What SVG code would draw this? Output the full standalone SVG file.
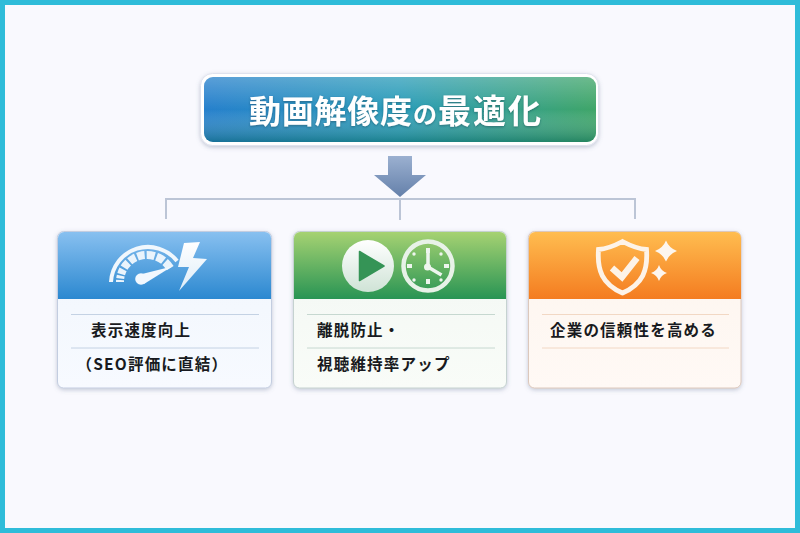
<svg xmlns="http://www.w3.org/2000/svg" width="800" height="533" viewBox="0 0 800 533">
<style>
text{font-family:"Noto Sans CJK JP","Liberation Sans",sans-serif;}
.t{font-size:15.5px;font-weight:700;fill:#181a20;letter-spacing:1.2px;}
.title{font-size:32px;font-weight:700;fill:#fff;filter:url(#ts);}
.conn{fill:none;stroke:#bcc5d6;stroke-width:2;}
.card{stroke-width:1;}
</style>
<defs>
<linearGradient id="tg" x1="0" y1="0" x2="1" y2="0"><stop offset="0" stop-color="#2680cc"/><stop offset=".5" stop-color="#2a9cb8"/><stop offset="1" stop-color="#3fa568"/></linearGradient>
<linearGradient id="tv" x1="0" y1="0" x2="0" y2="1"><stop offset="0" stop-color="#fff" stop-opacity=".24"/><stop offset=".5" stop-color="#fff" stop-opacity="0"/><stop offset="1" stop-color="#005a50" stop-opacity=".42"/></linearGradient>
<linearGradient id="ar" x1="0" y1="0" x2="0" y2="1"><stop offset="0" stop-color="#9bb0d0"/><stop offset="1" stop-color="#6480aa"/></linearGradient>
<linearGradient id="h1" x1="0" y1="0" x2="0" y2="1"><stop offset="0" stop-color="#88c0f0"/><stop offset="1" stop-color="#2b88d0"/></linearGradient>
<linearGradient id="h2" x1="0" y1="0" x2="0" y2="1"><stop offset="0" stop-color="#a6d272"/><stop offset="1" stop-color="#289454"/></linearGradient>
<linearGradient id="h3" x1="0" y1="0" x2="0" y2="1"><stop offset="0" stop-color="#ffbd50"/><stop offset="1" stop-color="#f47c20"/></linearGradient>
<linearGradient id="b1" x1="0" y1="0" x2="0" y2="1"><stop offset="0" stop-color="#f1f6fd"/><stop offset="1" stop-color="#f7faff"/></linearGradient>
<linearGradient id="b2" x1="0" y1="0" x2="0" y2="1"><stop offset="0" stop-color="#f2f7f3"/><stop offset="1" stop-color="#f9fcf8"/></linearGradient>
<linearGradient id="b3" x1="0" y1="0" x2="0" y2="1"><stop offset="0" stop-color="#fdf5ee"/><stop offset="1" stop-color="#fff9f5"/></linearGradient>
<linearGradient id="ic" x1="0" y1="0" x2="0" y2="1"><stop offset="0" stop-color="#fff"/><stop offset="1" stop-color="#cfe3d6"/></linearGradient>
<linearGradient id="ib" x1="0" y1="0" x2="0" y2="1"><stop offset="0" stop-color="#fff"/><stop offset="1" stop-color="#dcecf8"/></linearGradient>
<filter id="sh" x="-10%" y="-10%" width="120%" height="125%"><feDropShadow dx="0" dy="1.500" stdDeviation="2" flood-color="#5a6a8a" flood-opacity=".35"/></filter>
<filter id="ts" x="-5%" y="-10%" width="110%" height="125%"><feDropShadow dx="0" dy="1" stdDeviation="1" flood-color="#0a3a50" flood-opacity=".5"/></filter>
</defs>
<rect width="800" height="533" fill="#2fbcd9"/>
<rect x="5" y="5" width="790" height="523" fill="#f9f9fe"/>

<g id="connectors">
<path class="conn" d="M166 219V199H635V219M400 199V220"/>
<path d="M388 156H412V175H426L400 197L374 175H388Z" fill="url(#ar)"/>
</g>

<g id="title">
<rect x="200.500" y="73.500" width="398" height="72" rx="12" fill="#fff" stroke="#dfe2ee" stroke-width="1" filter="url(#sh)"/>
<rect x="204" y="77" width="392" height="65" rx="9" fill="url(#tg)"/>
<rect x="204" y="77" width="392" height="65" rx="9" fill="url(#tv)"/>
<text class="title" x="249" y="123" textLength="163" lengthAdjust="spacing">動画解像度</text>
<text class="title" x="413" y="123" style="font-size:24px">の</text>
<text class="title" x="438" y="123" textLength="103" lengthAdjust="spacing" style="font-size:33px">最適化</text>
</g>

<g id="card1">
<rect class="card" x="57.500" y="231.500" width="214" height="156.500" rx="6" fill="url(#b1)" stroke="#c3cde0" filter="url(#sh)"/>
<path d="M58 299V238a6 6 0 0 1 6-6H265a6 6 0 0 1 6 6V299Z" fill="url(#h1)"/>
<path d="M71 314.500H259M71 348H259" stroke="#c4d2e4" stroke-width="1"/>
<text class="t" x="91" y="336">表示速度向上</text>
<text class="t" x="76.500" y="370">（SEO評価に直結）</text>
<g id="gauge">
<path d="M111 282A37 37 0 0 1 177 261" fill="none" stroke="#f0f7fd" stroke-width="4"/>
<path d="M120 282A27 27 0 0 1 170.400 268.500" fill="none" stroke="#eaf4fc" stroke-width="8" stroke-dasharray="2 1.500 3 1.500 5 2 6.500 2 7 2 7.500 2 8 2 8 2 8 2"/>
<circle cx="141" cy="279" r="5.800" fill="#f2f8fe"/>
<path d="M142 274L172 266.500L144 284Z" fill="#f2f8fe"/>
<path d="M184 243L200 242L193 258L207 259L179 291L189 267L178 267Z" fill="url(#ib)"/>
</g>
</g>

<g id="card2">
<rect class="card" x="293.500" y="231.500" width="213" height="156.500" rx="6" fill="url(#b2)" stroke="#c5d2d0" filter="url(#sh)"/>
<path d="M294 299V238a6 6 0 0 1 6-6H500a6 6 0 0 1 6 6V299Z" fill="url(#h2)"/>
<path d="M307 314.500H495M307 348H495" stroke="#c6d8d0" stroke-width="1"/>
<text class="t" x="317" y="336">離脱防止・</text>
<text class="t" x="317" y="370">視聴維持率アップ</text>
<g id="play-clock">
<circle cx="368" cy="266" r="26" fill="url(#ic)"/>
<path d="M359.500 251.500L384 266L359.500 280.500Z" fill="#359456" stroke="#359456" stroke-width="1.500" stroke-linejoin="round"/>
<circle cx="428" cy="266" r="24.500" fill="none" stroke="#e8f2e8" stroke-width="4.500"/>
<path d="M426 248h4v5h-4ZM426 279h4v5h-4ZM407 264h5v4h-5ZM444 264h5v4h-5Z" fill="#eef5ee"/>
<circle cx="414" cy="254" r="1.700" fill="#eef5ee"/><circle cx="441" cy="254" r="1.700" fill="#eef5ee"/><circle cx="414" cy="280" r="1.700" fill="#eef5ee"/><circle cx="441" cy="280" r="1.700" fill="#eef5ee"/>
<path d="M428 250V267L441.500 275" fill="none" stroke="#eef5ee" stroke-width="3.500"/>
<circle cx="427.500" cy="267" r="3.500" fill="#eef5ee"/>
</g>
</g>

<g id="card3">
<rect class="card" x="528.500" y="231.500" width="212.500" height="156.500" rx="6" fill="url(#b3)" stroke="#dcc8bc" filter="url(#sh)"/>
<path d="M529 299V238a6 6 0 0 1 6-6H735a6 6 0 0 1 6 6V299Z" fill="url(#h3)"/>
<path d="M542 314.500H729M542 348H729" stroke="#f2d8c4" stroke-width="1"/>
<text class="t" x="550" y="336">企業の信頼性を高める</text>
<g id="shield">
<path d="M622.500 241.500C613 246.500 606 249 598.500 249.500C597 270 602 284 622.500 293C643 284 648 270 646.500 249.500C639 249 632 246.500 622.500 241.500Z" fill="none" stroke="#fdf3e8" stroke-width="4.800"/>
<path d="M612 268L622 277L637 258" fill="none" stroke="#fdf3e8" stroke-width="6.500"/>
<path d="M666 240.500Q669 248 677 251Q669 254 666 261.500Q663 254 655 251Q663 248 666 240.500Z" fill="#fdf6ee"/>
<path d="M659 265Q661 271 667 273Q661 275 659 281Q657 275 651 273Q657 271 659 265Z" fill="#fdf6ee"/>
</g>
</g>
</svg>
